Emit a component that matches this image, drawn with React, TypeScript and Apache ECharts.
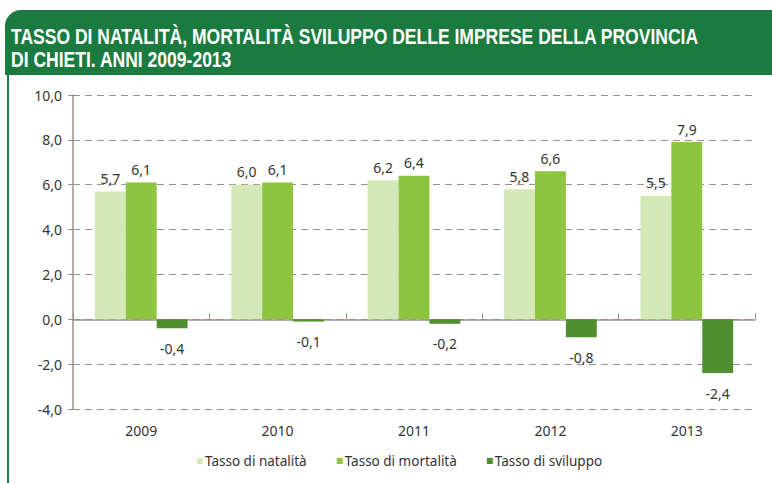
import React, { useEffect, useRef } from "react";
import * as echarts from "echarts";

const years = ["2009", "2010", "2011", "2012", "2013"];
const natalita = [5.7, 6.0, 6.2, 5.8, 5.5];
const mortalita = [6.1, 6.1, 6.4, 6.6, 7.9];
const sviluppo = [-0.4, -0.1, -0.2, -0.8, -2.4];
const seriesNames = ["Tasso di natalità", "Tasso di mortalità", "Tasso di sviluppo"];
const titleLines = [
  "TASSO DI NATALITÀ, MORTALITÀ SVILUPPO DELLE IMPRESE DELLA PROVINCIA",
  "DI CHIETI. ANNI 2009-2013",
];

const fmt = (v: number) => v.toFixed(1).replace(".", ",");
const FONT = "'Noto Sans', sans-serif";

export default function App() {
  const ref = useRef<HTMLDivElement>(null);
  useEffect(() => {
    document.body.style.margin = "0";
    const chart = echarts.init(ref.current!, undefined, { renderer: "svg" });
    const labelStyle = {
      show: true,
      color: "#333",
      fontSize: 14,
      fontFamily: FONT,
      formatter: (p: any) => fmt(p.value),
    };
    chart.setOption({
      animation: false,
      backgroundColor: "#ffffff",
      textStyle: { fontFamily: FONT },
      graphic: [
        {
          type: "rect",
          shape: { x: 5, y: 10, width: 780, height: 65, r: [16, 0, 0, 0] },
          style: { fill: "#1b7a3f" },
        },
        {
          type: "rect",
          shape: { x: 7, y: 74, width: 2, height: 420 },
          style: { fill: "#1b7a3f" },
        },
        {
          type: "text",
          x: 11,
          y: 25,
          scaleX: 0.797,
          style: {
            text: titleLines[0],
            fill: "#ffffff",
            font: "bold 22px 'Liberation Sans', sans-serif",
          },
        },
        {
          type: "text",
          x: 11,
          y: 48,
          scaleX: 0.797,
          style: {
            text: titleLines[1],
            fill: "#ffffff",
            font: "bold 22px 'Liberation Sans', sans-serif",
          },
        },
      ],
      legend: {
        bottom: 10,
        left: 192,
        itemWidth: 6,
        itemHeight: 6,
        itemGap: 30,
        icon: "rect",
        textStyle: { fontSize: 13.5, color: "#333", fontFamily: FONT, padding: [0, 0, 0, -3] },
        data: seriesNames,
      },
      grid: { left: 73, right: 17, top: 95, bottom: 74 },
      xAxis: [
        {
          type: "category",
          data: years,
          position: "bottom",
          axisLine: { show: false, onZero: false },
          axisTick: { show: false },
          axisLabel: { color: "#333", fontSize: 14, margin: 14, fontFamily: FONT },
        },
        {
          type: "category",
          data: years,
          position: "bottom",
          axisLine: { show: true, onZero: true, lineStyle: { color: "#9a8f88", width: 1.5 } },
          axisTick: { show: true, inside: true, length: 6, lineStyle: { color: "#9a8f88" } },
          axisLabel: { show: false },
        },
      ],
      yAxis: {
        type: "value",
        min: -4,
        max: 10,
        interval: 2,
        axisLine: { show: true, lineStyle: { color: "#9a8f88", width: 1.5 } },
        axisTick: { show: true, length: 5, lineStyle: { color: "#9a8f88" } },
        axisLabel: {
          color: "#333",
          fontSize: 14,
          margin: 11,
          fontFamily: FONT,
          formatter: (v: number) => fmt(v),
        },
        splitLine: { show: true, lineStyle: { type: [7, 5], color: "#a08c80", width: 1 } },
      },
      series: [
        {
          name: seriesNames[0],
          type: "bar",
          data: natalita,
          barGap: "0%",
          barCategoryGap: "32%",
          itemStyle: { color: "#d5e9b8" },
          label: { ...labelStyle, position: "top", distance: 6 },
        },
        {
          name: seriesNames[1],
          type: "bar",
          data: mortalita,
          itemStyle: { color: "#8dc540" },
          label: { ...labelStyle, position: "top", distance: 6 },
        },
        {
          name: seriesNames[2],
          type: "bar",
          data: sviluppo,
          itemStyle: { color: "#4f8f2e" },
          label: { ...labelStyle, position: "bottom", distance: 13 },
        },
      ],
    });
    return () => chart.dispose();
  }, []);
  return <div ref={ref} style={{ width: 772, height: 483 }} />;
}
